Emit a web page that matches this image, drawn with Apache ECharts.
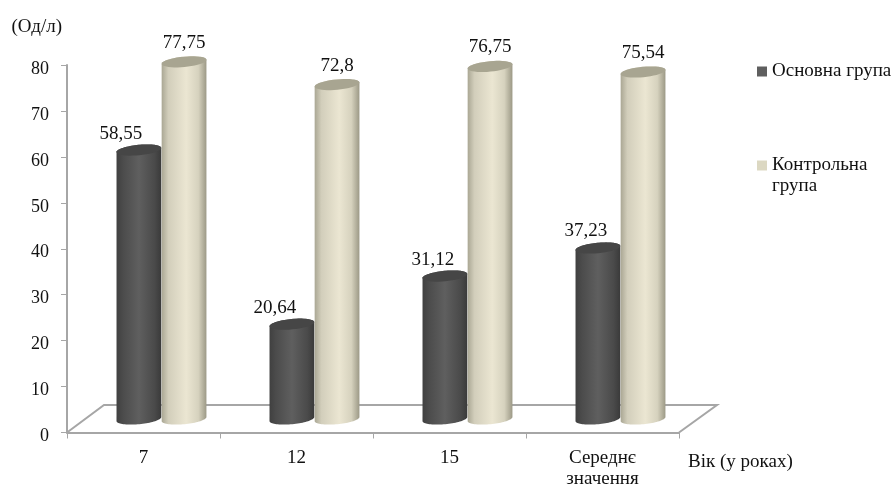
<!DOCTYPE html>
<html>
<head>
<meta charset="utf-8">
<style>html,body{margin:0;padding:0;background:#fff}#chart{width:891px;height:484px}</style>
<script src="https://cdn.jsdelivr.net/npm/echarts@6/dist/echarts.min.js"></script>
</head>
<body>
<div id="chart"></div>
<script>
// Age groups and the measured level (Од/л) for each study group
const ageGroups = ['7', '12', '15', 'Середнє\nзначення'];
const mainGroup = [58.55, 20.64, 31.12, 37.23];
const controlGroup = [77.75, 72.8, 76.75, 75.54];
const mainName = 'Основна група';
const controlName = 'Контрольна група';
const yTicks = { min: 0, max: 80, step: 10 };

const serif = '"Liberation Serif", "Times New Roman", serif';
const inkColor = '#111111';
const frameColor = '#a6a6a6';

// The cylinders stand on the middle of the floor, above the front axis edge
const FLOOR_LIFT = 13.5;
const TILT = -5.5 * Math.PI / 180;
const RY = 5.2;

function ellipsePoint(cx, cy, rx, t) {
  const ex = rx * Math.cos(t), ey = RY * Math.sin(t);
  return [
    cx + ex * Math.cos(TILT) - ey * Math.sin(TILT),
    cy + ex * Math.sin(TILT) + ey * Math.cos(TILT)
  ];
}

function arc(cx, cy, rx, from, to) {
  const pts = [];
  for (let i = 0; i <= 40; i++) pts.push(ellipsePoint(cx, cy, rx, from + (to - from) * i / 40));
  return pts;
}

function shade(stops) {
  return {
    type: 'linear', x: 0, y: 0, x2: 1, y2: 0,
    colorStops: stops.map(s => ({ offset: s[0], color: s[1] }))
  };
}

// Builds one cylinder (side, cap, value label) through the axis scales
function cylinder(look, labelShift) {
  return function (params, api) {
    const band = api.size([1, 0])[0];
    const cx = api.coord([api.value(0), 0])[0] + band * look.offset;
    const value = api.value(1);
    const yTop = api.coord([0, value])[1] - FLOOR_LIFT;
    const yBase = api.coord([0, 0])[1] - FLOOR_LIFT;
    const rx = band * 0.147;
    const side = arc(cx, yTop, rx, Math.PI, 2 * Math.PI).concat(arc(cx, yBase, rx, 0, Math.PI));
    return {
      type: 'group',
      children: [
        { type: 'polygon', shape: { points: side }, style: { fill: shade(look.side) } },
        { type: 'polygon', shape: { points: arc(cx, yTop, rx, 0, 2 * Math.PI) }, style: { fill: look.cap } },
        {
          type: 'text',
          style: {
            x: cx + labelShift[params.dataIndex],
            y: yTop - look.labelRise,
            text: String(value).replace('.', ','),
            font: '19px ' + serif,
            fill: inkColor,
            textAlign: 'center',
            textVerticalAlign: 'middle'
          }
        }
      ]
    };
  };
}

const mainLook = {
  offset: -0.03,
  labelRise: 16.5,
  cap: '#464646',
  side: [[0, '#404040'], [0.15, '#4c4c4c'], [0.5, '#5f5f5f'], [0.85, '#4a4a4a'], [1, '#3a3a3a']]
};
const controlLook = {
  offset: 0.265,
  labelRise: 19,
  cap: '#a8a591',
  side: [[0, '#aaa794'], [0.15, '#d2cebb'], [0.55, '#ebe6d2'], [0.82, '#d6d2be'], [1, '#9c9986']]
};

const chart = echarts.init(document.getElementById('chart'), null, { renderer: 'canvas' });
chart.setOption({
  animation: false,
  backgroundColor: '#ffffff',
  textStyle: { fontFamily: serif, color: inkColor },
  grid: { left: 67, right: 212, top: 65, bottom: 51.5, outerBoundsMode: 'none' },
  legend: {
    orient: 'vertical',
    left: 757,
    top: 61,
    padding: 0,
    itemWidth: 10,
    itemHeight: 10,
    itemGap: 52,
    align: 'left',
    icon: 'rect',
    textStyle: { fontFamily: serif, fontSize: 19, color: inkColor, lineHeight: 21 },
    // An empty first line keeps the key square beside the first line of wrapped names
    formatter: name => name === controlName ? '\nКонтрольна\nгрупа' : name,
    data: [
      { name: mainName, itemStyle: { color: '#5f5f5f' } },
      { name: controlName, itemStyle: { color: '#dcd8c2' } }
    ]
  },
  graphic: {
    elements: [{
      // Floor of the chart box
      type: 'polyline',
      z: 0,
      shape: { points: [[67, 432.5], [104, 405], [717, 405], [679, 432.5]] },
      style: { stroke: frameColor, lineWidth: 2, fill: 'none' }
    }]
  },
  xAxis: {
    type: 'category',
    data: ageGroups,
    name: 'Вік (у роках)',
    nameLocation: 'end',
    nameGap: 9,
    nameTextStyle: { fontFamily: serif, fontSize: 19, color: inkColor, verticalAlign: 'top', padding: [20, 0, 0, 0] },
    axisLine: { lineStyle: { color: frameColor, width: 2 } },
    axisTick: { show: true, length: 6, alignWithLabel: false, lineStyle: { color: frameColor, width: 1 } },
    axisLabel: { interval: 0, margin: 15, fontFamily: serif, fontSize: 19, lineHeight: 21, color: inkColor },
    splitLine: { show: false }
  },
  yAxis: {
    type: 'value',
    min: yTicks.min,
    max: yTicks.max,
    interval: yTicks.step,
    name: '(Од/л)',
    nameLocation: 'end',
    nameGap: 28,
    nameTextStyle: { fontFamily: serif, fontSize: 19, color: inkColor, align: 'right', padding: [0, 5, 0, 0] },
    axisLine: { show: true, lineStyle: { color: frameColor, width: 2 } },
    axisTick: { show: true, length: 6, lineStyle: { color: frameColor, width: 1 } },
    axisLabel: { margin: 18, verticalAlign: 'top', lineHeight: 8, fontFamily: serif, fontSize: 18, color: inkColor },
    splitLine: { show: false }
  },
  series: [
    {
      type: 'custom',
      name: mainName,
      clip: false,
      z: 3,
      itemStyle: { color: '#5f5f5f' },
      encode: { x: 0, y: 1 },
      data: mainGroup.map((v, i) => [i, v]),
      renderItem: cylinder(mainLook, [-18, -17, -12, -12])
    },
    {
      type: 'custom',
      name: controlName,
      clip: false,
      z: 4,
      itemStyle: { color: '#dcd8c2' },
      encode: { x: 0, y: 1 },
      data: controlGroup.map((v, i) => [i, v]),
      renderItem: cylinder(controlLook, [0, 0, 0, 0])
    }
  ]
});
</script>
</body>
</html>
